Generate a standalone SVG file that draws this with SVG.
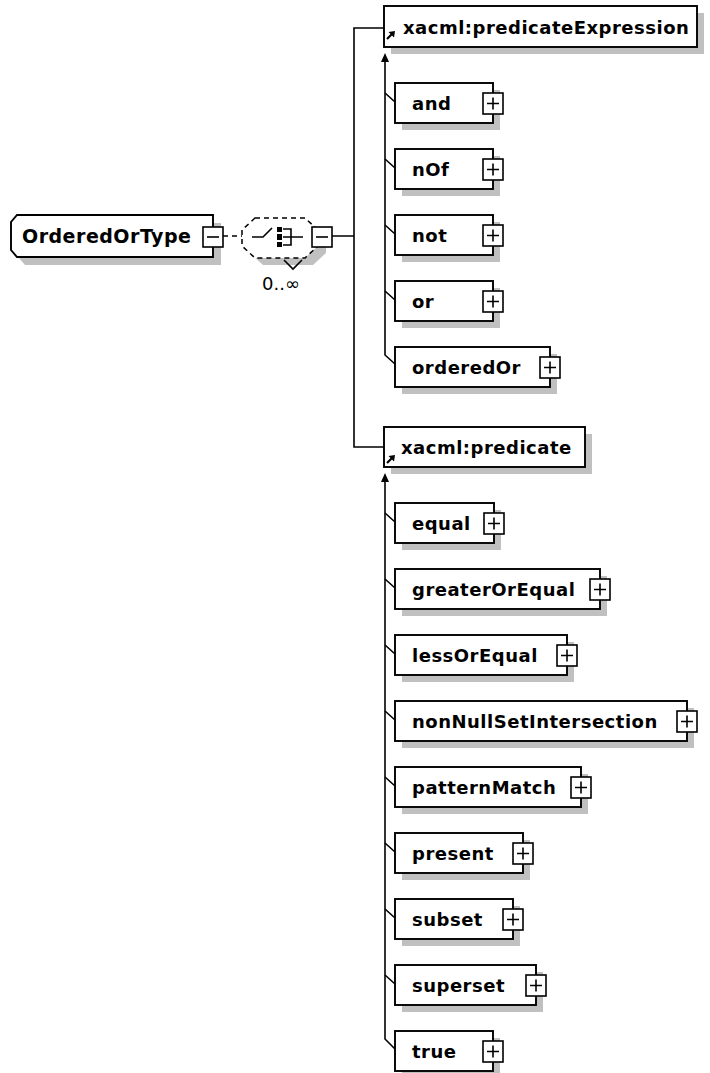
<svg xmlns="http://www.w3.org/2000/svg" xmlns:xlink="http://www.w3.org/1999/xlink" width="710" height="1073" viewBox="0 0 710 1073">
<style>
.bg{fill:#fff}
.sh{fill:#c0c0c0;stroke:none}
.box{fill:#fff;stroke:#000;stroke-width:1.9}
.ln{fill:none;stroke:#000;stroke-width:1.6}
.dash{fill:none;stroke:#000;stroke-width:1.6;stroke-dasharray:5 4}
.lbl{font-family:"DejaVu Sans",Verdana,sans-serif;font-weight:bold;font-size:18px;letter-spacing:0.5px;fill:#000}
.card{font-family:"DejaVu Sans",Verdana,sans-serif;font-size:18px;fill:#000}
.pb{fill:#fff;stroke:#000;stroke-width:1.6}
</style>
<defs>
<g id="plus"><rect class="pb" x="-10" y="-10" width="20" height="21"/><path class="ln" d="M-6,0.5H6M0,-5.5V6.5"/></g>
<g id="minus"><rect class="pb" x="-10" y="-10" width="20" height="20"/><path class="ln" d="M-6,0H6"/></g>
<g id="ref"><path fill="none" stroke="#000" stroke-width="2.2" d="M0,7L5,2"/><polygon points="8,-1 1.5,0 7,5.5" fill="#000"/></g>
<polygon id="up" points="0,0 -4,9 4,9" fill="#000"/>
</defs>
<rect class="bg" x="0" y="0" width="710" height="1073"/>

<g id="connectors">
<line class="dash" x1="223" y1="236" x2="244" y2="236"/>
<path class="ln" d="M332,236H354M384,28H354V447H384"/>
<path class="ln" d="M385,58V355L395,364"/>
<use xlink:href="#up" x="385" y="53"/>
<path class="ln" d="M385,93L395,102M385,159L395,168M385,225L395,234M385,291L395,300"/>
<path class="ln" d="M385,478V1039L395,1049"/>
<use xlink:href="#up" x="385" y="473"/>
<path class="ln" d="M385,513L395,522M385,579L395,588M385,645L395,654M385,711L395,720M385,777L395,786M385,843L395,852M385,909L395,918M385,975L395,984"/>
</g>

<g id="node-OrderedOrType">
<polygon class="sh" points="25,223 221,223 221,265 25,265 19,258 19,230"/>
<polygon class="box" points="17,215 213,215 213,257 17,257 11,250 11,222"/>
<text class="lbl" x="22" y="243" style="font-size:19px">OrderedOrType</text>
<use xlink:href="#minus" x="213" y="237"/>
</g>

<g id="node-choice">
<polygon class="sh" points="263,225 313,225 326,237 326,253 313,265 263,265 250,253 250,237"/>
<polygon points="255,218 305,218 318,230 318,246 305,258 255,258 242,246 242,230" fill="#fff" stroke="#000" stroke-width="1.5" stroke-dasharray="5 4"/>
<path class="ln" d="M284,260L293,269L302,260"/>
<path class="ln" d="M252,237H263L272,228"/>
<rect x="277" y="227" width="5" height="5" fill="#000"/>
<rect x="277" y="234" width="5" height="6" fill="#000"/>
<rect x="277" y="242" width="5" height="5" fill="#000"/>
<path class="ln" d="M283,229H291V245H283M283,237H303"/>
<use xlink:href="#minus" x="322" y="237"/>
<text class="card" x="281" y="290" text-anchor="middle">0..∞</text>
</g>

<g id="node-predicateExpression">
<rect class="sh" x="391" y="13" width="313" height="41"/>
<rect class="box" x="384" y="6" width="313" height="41"/>
<use xlink:href="#ref" x="387" y="32"/>
<text class="lbl" x="403" y="34">xacml:predicateExpression</text>
</g>

<g id="node-and">
<rect class="sh" x="402" y="90" width="98" height="40"/>
<rect class="box" x="395" y="83" width="98" height="40"/>
<text class="lbl" x="412" y="110">and</text>
<use xlink:href="#plus" x="493" y="103"/>
</g>
<g id="node-nOf">
<rect class="sh" x="402" y="156" width="98" height="40"/>
<rect class="box" x="395" y="149" width="98" height="40"/>
<text class="lbl" x="412" y="176">nOf</text>
<use xlink:href="#plus" x="493" y="169"/>
</g>
<g id="node-not">
<rect class="sh" x="402" y="222" width="98" height="40"/>
<rect class="box" x="395" y="215" width="98" height="40"/>
<text class="lbl" x="412" y="242">not</text>
<use xlink:href="#plus" x="493" y="235"/>
</g>
<g id="node-or">
<rect class="sh" x="402" y="288" width="98" height="40"/>
<rect class="box" x="395" y="281" width="98" height="40"/>
<text class="lbl" x="412" y="308">or</text>
<use xlink:href="#plus" x="493" y="301"/>
</g>
<g id="node-orderedOr">
<rect class="sh" x="402" y="354" width="155" height="40"/>
<rect class="box" x="395" y="347" width="155" height="40"/>
<text class="lbl" x="412" y="374">orderedOr</text>
<use xlink:href="#plus" x="550" y="367"/>
</g>

<g id="node-predicate">
<rect class="sh" x="391" y="434" width="201" height="40"/>
<rect class="box" x="384" y="427" width="201" height="40"/>
<use xlink:href="#ref" x="387" y="456"/>
<text class="lbl" x="401" y="454">xacml:predicate</text>
</g>

<g id="node-equal">
<rect class="sh" x="402" y="510" width="99" height="40"/>
<rect class="box" x="395" y="503" width="99" height="40"/>
<text class="lbl" x="412" y="530">equal</text>
<use xlink:href="#plus" x="494" y="523"/>
</g>
<g id="node-greaterOrEqual">
<rect class="sh" x="402" y="576" width="205" height="40"/>
<rect class="box" x="395" y="569" width="205" height="40"/>
<text class="lbl" x="412" y="596">greaterOrEqual</text>
<use xlink:href="#plus" x="600" y="589"/>
</g>
<g id="node-lessOrEqual">
<rect class="sh" x="402" y="642" width="172" height="40"/>
<rect class="box" x="395" y="635" width="172" height="40"/>
<text class="lbl" x="412" y="662">lessOrEqual</text>
<use xlink:href="#plus" x="567" y="655"/>
</g>
<g id="node-nonNullSetIntersection">
<rect class="sh" x="402" y="708" width="292" height="40"/>
<rect class="box" x="395" y="701" width="292" height="40"/>
<text class="lbl" x="412" y="728">nonNullSetIntersection</text>
<use xlink:href="#plus" x="687" y="721"/>
</g>
<g id="node-patternMatch">
<rect class="sh" x="402" y="774" width="186" height="40"/>
<rect class="box" x="395" y="767" width="186" height="40"/>
<text class="lbl" x="412" y="794">patternMatch</text>
<use xlink:href="#plus" x="581" y="787"/>
</g>
<g id="node-present">
<rect class="sh" x="402" y="840" width="128" height="40"/>
<rect class="box" x="395" y="833" width="128" height="40"/>
<text class="lbl" x="412" y="860">present</text>
<use xlink:href="#plus" x="523" y="853"/>
</g>
<g id="node-subset">
<rect class="sh" x="402" y="906" width="118" height="40"/>
<rect class="box" x="395" y="899" width="118" height="40"/>
<text class="lbl" x="412" y="926">subset</text>
<use xlink:href="#plus" x="513" y="919"/>
</g>
<g id="node-superset">
<rect class="sh" x="402" y="972" width="141" height="40"/>
<rect class="box" x="395" y="965" width="141" height="40"/>
<text class="lbl" x="412" y="992">superset</text>
<use xlink:href="#plus" x="536" y="985"/>
</g>
<g id="node-true">
<rect class="sh" x="402" y="1038" width="98" height="40"/>
<rect class="box" x="395" y="1031" width="98" height="40"/>
<text class="lbl" x="412" y="1058">true</text>
<use xlink:href="#plus" x="493" y="1051"/>
</g>
</svg>
